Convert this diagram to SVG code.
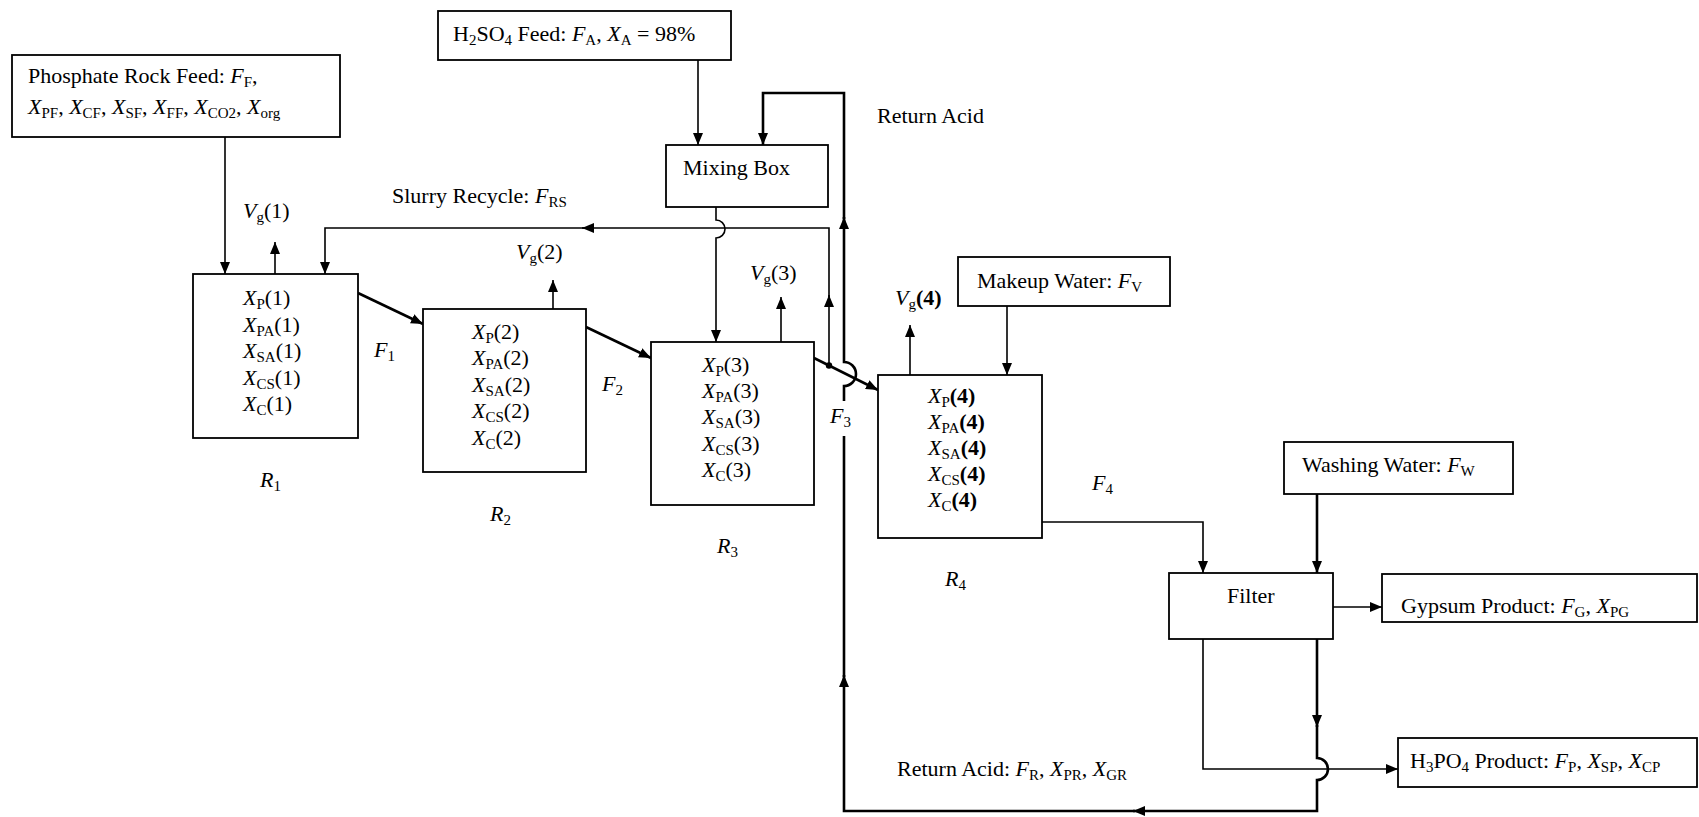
<svg xmlns="http://www.w3.org/2000/svg" width="1699" height="817" viewBox="0 0 1699 817">
<style>
.bg{fill:#fff}
.box{fill:#fff;stroke:#000;stroke-width:1.8}
.t{font-family:"Liberation Serif","Times New Roman",serif;font-size:22px;fill:#000}
.i{font-style:italic}
.s{font-size:15px}
.b{font-weight:bold}
.ln{fill:none;stroke:#000;stroke-width:1.6}
.tk{fill:none;stroke:#000;stroke-width:2.6}
</style>
<defs>
<marker id="ah" markerUnits="userSpaceOnUse" markerWidth="13" markerHeight="10" refX="12" refY="5" orient="auto">
<path d="M0,0 L12,5 L0,10 z" fill="#000"/>
</marker>
</defs>
<rect class="bg" x="0" y="0" width="1699" height="817"/>

<g id="connectors">
<path class="ln" d="M225,137 V274" marker-end="url(#ah)"/>
<path class="ln" d="M275,274 V242" marker-end="url(#ah)"/>
<path class="ln" d="M553,309 V280" marker-end="url(#ah)"/>
<path class="ln" d="M781,342 V297" marker-end="url(#ah)"/>
<path class="ln" d="M910,375 V325" marker-end="url(#ah)"/>
<path class="ln" d="M698,60 V145" marker-end="url(#ah)"/>
<path class="ln" d="M716,207 V220 A9,9 0 0 1 716,238 V342" marker-end="url(#ah)"/>
<path class="ln" d="M829,366 V295" marker-end="url(#ah)"/>
<path class="ln" d="M829,297 V228 H582" marker-end="url(#ah)"/>
<path class="ln" d="M584,228 H325 V274" marker-end="url(#ah)"/>
<path class="tk" d="M358,293 L423,324" marker-end="url(#ah)"/>
<path class="tk" d="M586,327 L651,358" marker-end="url(#ah)"/>
<path class="tk" d="M814,358 L878,390" marker-end="url(#ah)"/>
<circle cx="829" cy="365.5" r="3.2" fill="#000"/>
<path class="ln" d="M1007,306 V375" marker-end="url(#ah)"/>
<path class="ln" d="M1042,522 H1203 V573" marker-end="url(#ah)"/>
<path class="tk" d="M1317,494 V573" marker-end="url(#ah)"/>
<path class="ln" d="M1333,607 H1382" marker-end="url(#ah)"/>
<path class="ln" d="M1203,639 V769 H1398" marker-end="url(#ah)"/>
<path class="tk" d="M1317,639 V727" marker-end="url(#ah)"/>
<path class="tk" d="M1317,725 V758 A11,11 0 0 1 1317,780 V811 H1133" marker-end="url(#ah)"/>
<path class="tk" d="M1135,811 H844 V675" marker-end="url(#ah)"/>
<path class="tk" d="M844,677 V386 A12,12 0 0 0 844,362 V217" marker-end="url(#ah)"/>
<path class="tk" d="M844,219 V93 H763 V145" marker-end="url(#ah)"/>
</g>

<g id="phosphate-feed">
<rect class="box" x="12" y="55" width="328" height="82"/>
<text class="t" x="28" y="83">Phosphate Rock Feed: <tspan class="i">F</tspan><tspan class="s" dy="4">F</tspan><tspan dy="-4">,</tspan></text>
<text class="t" x="28" y="114"><tspan class="i">X</tspan><tspan class="s" dy="4">PF</tspan><tspan dy="-4">, </tspan><tspan class="i">X</tspan><tspan class="s" dy="4">CF</tspan><tspan dy="-4">, </tspan><tspan class="i">X</tspan><tspan class="s" dy="4">SF</tspan><tspan dy="-4">, </tspan><tspan class="i">X</tspan><tspan class="s" dy="4">FF</tspan><tspan dy="-4">, </tspan><tspan class="i">X</tspan><tspan class="s" dy="4">CO2</tspan><tspan dy="-4">, </tspan><tspan class="i">X</tspan><tspan class="s" dy="4">org</tspan></text>
</g>

<g id="h2so4-feed">
<rect class="box" x="438" y="11" width="293" height="49"/>
<text class="t" x="453" y="41">H<tspan class="s" dy="4">2</tspan><tspan dy="-4">SO</tspan><tspan class="s" dy="4">4</tspan><tspan dy="-4"> Feed: </tspan><tspan class="i">F</tspan><tspan class="s" dy="4">A</tspan><tspan dy="-4">, </tspan><tspan class="i">X</tspan><tspan class="s" dy="4">A</tspan><tspan dy="-4"> = 98%</tspan></text>
</g>

<g id="mixing-box">
<rect class="box" x="666" y="145" width="162" height="62"/>
<text class="t" x="683" y="175">Mixing Box</text>
</g>

<g id="labels">
<text class="t" x="243" y="218"><tspan class="i">V</tspan><tspan class="s" dy="4">g</tspan><tspan dy="-4">(1)</tspan></text>
<text class="t" x="516" y="259"><tspan class="i">V</tspan><tspan class="s" dy="4">g</tspan><tspan dy="-4">(2)</tspan></text>
<text class="t" x="750" y="280"><tspan class="i">V</tspan><tspan class="s" dy="4">g</tspan><tspan dy="-4">(3)</tspan></text>
<text class="t" x="895" y="305"><tspan class="i">V</tspan><tspan class="s" dy="4">g</tspan><tspan class="b" dy="-4">(4)</tspan></text>
<text class="t" x="392" y="203">Slurry Recycle: <tspan class="i">F</tspan><tspan class="s" dy="4">RS</tspan></text>
<text class="t" x="877" y="123">Return Acid</text>
<text class="t" x="374" y="357"><tspan class="i">F</tspan><tspan class="s" dy="4">1</tspan></text>
<text class="t" x="602" y="391"><tspan class="i">F</tspan><tspan class="s" dy="4">2</tspan></text>
<rect x="837" y="401" width="15" height="35" fill="#fff"/>
<text class="t" x="830" y="423"><tspan class="i">F</tspan><tspan class="s" dy="4">3</tspan></text>
<text class="t" x="1092" y="490"><tspan class="i">F</tspan><tspan class="s" dy="4">4</tspan></text>
<text class="t" x="897" y="776">Return Acid: <tspan class="i">F</tspan><tspan class="s" dy="4">R</tspan><tspan dy="-4">, </tspan><tspan class="i">X</tspan><tspan class="s" dy="4">PR</tspan><tspan dy="-4">, </tspan><tspan class="i">X</tspan><tspan class="s" dy="4">GR</tspan></text>
</g>

<g id="R1">
<rect class="box" x="193" y="274" width="165" height="164"/>
<text class="t" x="243" y="305"><tspan class="i">X</tspan><tspan class="s" dy="4">P</tspan><tspan dy="-4">(1)</tspan></text>
<text class="t" x="243" y="332"><tspan class="i">X</tspan><tspan class="s" dy="4">PA</tspan><tspan dy="-4">(1)</tspan></text>
<text class="t" x="243" y="358"><tspan class="i">X</tspan><tspan class="s" dy="4">SA</tspan><tspan dy="-4">(1)</tspan></text>
<text class="t" x="243" y="385"><tspan class="i">X</tspan><tspan class="s" dy="4">CS</tspan><tspan dy="-4">(1)</tspan></text>
<text class="t" x="243" y="411"><tspan class="i">X</tspan><tspan class="s" dy="4">C</tspan><tspan dy="-4">(1)</tspan></text>
<text class="t" x="260" y="487"><tspan class="i">R</tspan><tspan class="s" dy="4">1</tspan></text>
</g>

<g id="R2">
<rect class="box" x="423" y="309" width="163" height="163"/>
<text class="t" x="472" y="339"><tspan class="i">X</tspan><tspan class="s" dy="4">P</tspan><tspan dy="-4">(2)</tspan></text>
<text class="t" x="472" y="365"><tspan class="i">X</tspan><tspan class="s" dy="4">PA</tspan><tspan dy="-4">(2)</tspan></text>
<text class="t" x="472" y="392"><tspan class="i">X</tspan><tspan class="s" dy="4">SA</tspan><tspan dy="-4">(2)</tspan></text>
<text class="t" x="472" y="418"><tspan class="i">X</tspan><tspan class="s" dy="4">CS</tspan><tspan dy="-4">(2)</tspan></text>
<text class="t" x="472" y="445"><tspan class="i">X</tspan><tspan class="s" dy="4">C</tspan><tspan dy="-4">(2)</tspan></text>
<text class="t" x="490" y="521"><tspan class="i">R</tspan><tspan class="s" dy="4">2</tspan></text>
</g>

<g id="R3">
<rect class="box" x="651" y="342" width="163" height="163"/>
<text class="t" x="702" y="372"><tspan class="i">X</tspan><tspan class="s" dy="4">P</tspan><tspan dy="-4">(3)</tspan></text>
<text class="t" x="702" y="398"><tspan class="i">X</tspan><tspan class="s" dy="4">PA</tspan><tspan dy="-4">(3)</tspan></text>
<text class="t" x="702" y="424"><tspan class="i">X</tspan><tspan class="s" dy="4">SA</tspan><tspan dy="-4">(3)</tspan></text>
<text class="t" x="702" y="451"><tspan class="i">X</tspan><tspan class="s" dy="4">CS</tspan><tspan dy="-4">(3)</tspan></text>
<text class="t" x="702" y="477"><tspan class="i">X</tspan><tspan class="s" dy="4">C</tspan><tspan dy="-4">(3)</tspan></text>
<text class="t" x="717" y="553"><tspan class="i">R</tspan><tspan class="s" dy="4">3</tspan></text>
</g>

<g id="R4">
<rect class="box" x="878" y="375" width="164" height="163"/>
<text class="t" x="928" y="403"><tspan class="i">X</tspan><tspan class="s" dy="4">P</tspan><tspan class="b" dy="-4">(4)</tspan></text>
<text class="t" x="928" y="429"><tspan class="i">X</tspan><tspan class="s" dy="4">PA</tspan><tspan class="b" dy="-4">(4)</tspan></text>
<text class="t" x="928" y="455"><tspan class="i">X</tspan><tspan class="s" dy="4">SA</tspan><tspan class="b" dy="-4">(4)</tspan></text>
<text class="t" x="928" y="481"><tspan class="i">X</tspan><tspan class="s" dy="4">CS</tspan><tspan class="b" dy="-4">(4)</tspan></text>
<text class="t" x="928" y="507"><tspan class="i">X</tspan><tspan class="s" dy="4">C</tspan><tspan class="b" dy="-4">(4)</tspan></text>
<text class="t" x="945" y="586"><tspan class="i">R</tspan><tspan class="s" dy="4">4</tspan></text>
</g>

<g id="makeup-water">
<rect class="box" x="958" y="257" width="212" height="49"/>
<text class="t" x="977" y="288">Makeup Water: <tspan class="i">F</tspan><tspan class="s" dy="4">V</tspan></text>
</g>

<g id="washing-water">
<rect class="box" x="1284" y="442" width="229" height="52"/>
<text class="t" x="1302" y="472">Washing Water: <tspan class="i">F</tspan><tspan class="s" dy="4">W</tspan></text>
</g>

<g id="filter">
<rect class="box" x="1169" y="573" width="164" height="66"/>
<text class="t" x="1227" y="603">Filter</text>
</g>

<g id="gypsum-product">
<rect class="box" x="1382" y="574" width="315" height="48"/>
<text class="t" x="1401" y="613">Gypsum Product: <tspan class="i">F</tspan><tspan class="s" dy="4">G</tspan><tspan dy="-4">, </tspan><tspan class="i">X</tspan><tspan class="s" dy="4">PG</tspan></text>
</g>

<g id="h3po4-product">
<rect class="box" x="1398" y="738" width="299" height="49"/>
<text class="t" x="1410" y="768">H<tspan class="s" dy="4">3</tspan><tspan dy="-4">PO</tspan><tspan class="s" dy="4">4</tspan><tspan dy="-4"> Product: </tspan><tspan class="i">F</tspan><tspan class="s" dy="4">P</tspan><tspan dy="-4">, </tspan><tspan class="i">X</tspan><tspan class="s" dy="4">SP</tspan><tspan dy="-4">, </tspan><tspan class="i">X</tspan><tspan class="s" dy="4">CP</tspan></text>
</g>
</svg>
